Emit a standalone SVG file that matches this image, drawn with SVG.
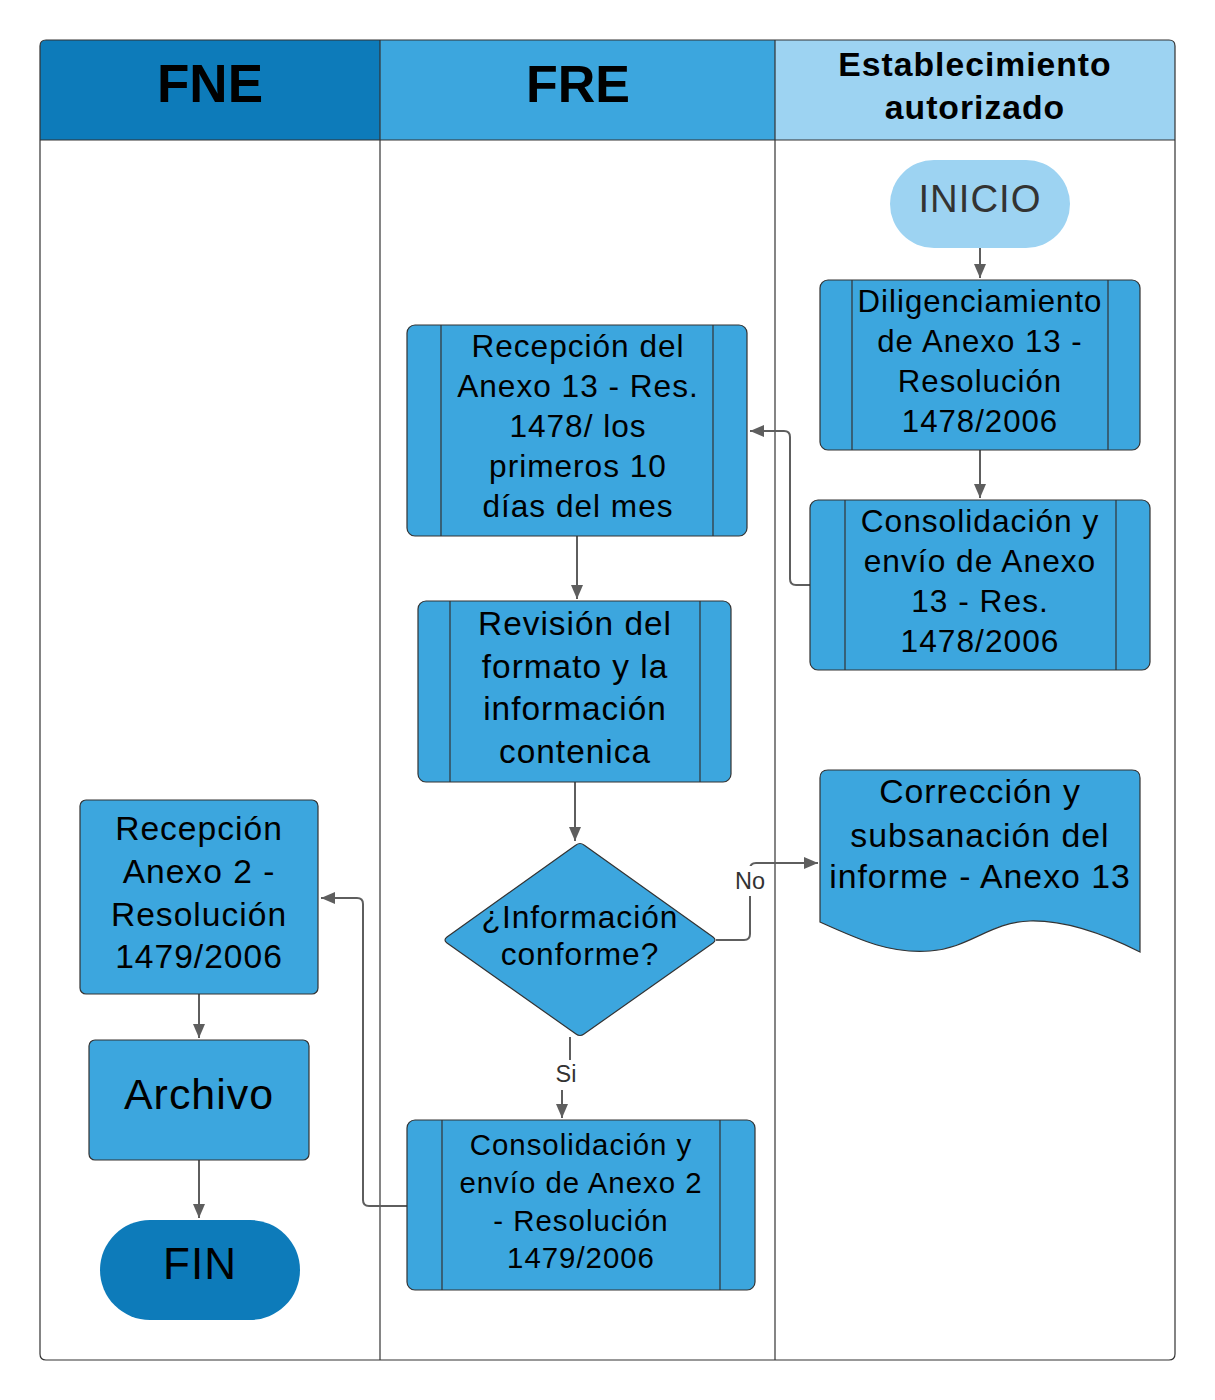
<svg xmlns="http://www.w3.org/2000/svg" width="1215" height="1400" viewBox="0 0 1215 1400">
<style>
.t{font-family:"Liberation Sans",Arial,sans-serif;fill:#000;text-anchor:middle;letter-spacing:1px}
.h{font-weight:bold}
.box{fill:#3ca6de;stroke:#333;stroke-width:1.2}
.inner{stroke:#333;stroke-width:1.2;fill:none}
.lane{fill:none;stroke:#333;stroke-width:1.2}
.c{fill:none;stroke:#5e5e5e;stroke-width:2}
.lbl{font-family:"Liberation Sans",Arial,sans-serif;fill:#333;text-anchor:middle;font-size:23.5px}
</style>
<defs>
<marker id="a" markerUnits="userSpaceOnUse" markerWidth="16" markerHeight="12" refX="14" refY="6" orient="auto" viewBox="0 0 16 12">
<path d="M0,0 L14,6 L0,12 z" fill="#5e5e5e"/>
</marker>
</defs>
<rect width="1215" height="1400" fill="#fff"/>
<g id="pool">
<path d="M46,40 H380 V140 H40 V46 Q40,40 46,40 z" fill="#0d7bba"/>
<rect x="380" y="40" width="395" height="100" fill="#3ca6de"/>
<path d="M775,40 H1169 Q1175,40 1175,46 V140 H775 z" fill="#9dd3f2"/>
<path class="lane" d="M46,40 H1169 Q1175,40 1175,46 V1354 Q1175,1360 1169,1360 H46 Q40,1360 40,1354 V46 Q40,40 46,40 z"/>
<line class="lane" x1="40" y1="140" x2="1175" y2="140"/>
<line class="lane" x1="380" y1="40" x2="380" y2="1360"/>
<line class="lane" x1="775" y1="40" x2="775" y2="1360"/>
<text class="t h" x="210" y="102" font-size="53" style="letter-spacing:0">FNE</text>
<text class="t h" x="578" y="102" font-size="52" style="letter-spacing:0">FRE</text>
<text class="t h" x="975" y="76" font-size="33.7">Establecimiento</text>
<text class="t h" x="975" y="119" font-size="33.7">autorizado</text>
</g>
<g id="connectors">
<path class="c" d="M980,248 V278" marker-end="url(#a)"/>
<path class="c" d="M980,450 V498" marker-end="url(#a)"/>
<path class="c" d="M810,585 H796 Q790,585 790,579 V437 Q790,431 784,431 H750" marker-end="url(#a)"/>
<path class="c" d="M577,536 V599" marker-end="url(#a)"/>
<path class="c" d="M575,782 V841" marker-end="url(#a)"/>
<path class="c" d="M716,940 H744 Q750,940 750,934 V869 Q750,863 756,863 H818" marker-end="url(#a)"/>
<path class="c" d="M570,1037 V1062 L562,1090 V1118" marker-end="url(#a)"/>
<path class="c" d="M407,1206 H369 Q363,1206 363,1200 V904 Q363,898 357,898 H321" marker-end="url(#a)"/>
<path class="c" d="M199,994 V1038" marker-end="url(#a)"/>
<path class="c" d="M199,1160 V1218" marker-end="url(#a)"/>
<rect x="733" y="866" width="34" height="30" fill="#fff"/>
<text class="lbl" x="750" y="889">No</text>
<rect x="552" y="1060" width="28" height="30" fill="#fff"/>
<text class="lbl" x="566" y="1082">Si</text>
</g>
<g id="inicio">
<rect x="890" y="160" width="180" height="88" rx="44" fill="#9dd3f2"/>
<text class="t" x="980" y="212" font-size="38.3" style="fill:#333">INICIO</text>
</g>
<g id="diligenciamiento">
<rect class="box" x="820" y="280" width="320" height="170" rx="8"/>
<line class="inner" x1="852" y1="280" x2="852" y2="450"/>
<line class="inner" x1="1108" y1="280" x2="1108" y2="450"/>
<text class="t" font-size="31.2"><tspan x="980" y="312">Diligenciamiento</tspan><tspan x="980" y="352">de Anexo 13 -</tspan><tspan x="980" y="392">Resolución</tspan><tspan x="980" y="432">1478/2006</tspan></text>
</g>
<g id="consolidacion13">
<rect class="box" x="810" y="500" width="340" height="170" rx="8"/>
<line class="inner" x1="845" y1="500" x2="845" y2="670"/>
<line class="inner" x1="1116" y1="500" x2="1116" y2="670"/>
<text class="t" font-size="31.7"><tspan x="980" y="532">Consolidación y</tspan><tspan x="980" y="572">envío de Anexo</tspan><tspan x="980" y="612">13 - Res.</tspan><tspan x="980" y="652">1478/2006</tspan></text>
</g>
<g id="recepcion13">
<rect class="box" x="407" y="325" width="340" height="211" rx="8"/>
<line class="inner" x1="441" y1="325" x2="441" y2="536"/>
<line class="inner" x1="713" y1="325" x2="713" y2="536"/>
<text class="t" font-size="31.6"><tspan x="578" y="357">Recepción del</tspan><tspan x="578" y="397">Anexo 13 - Res.</tspan><tspan x="578" y="437">1478/ los</tspan><tspan x="578" y="477">primeros 10</tspan><tspan x="578" y="517">días del mes</tspan></text>
</g>
<g id="revision">
<rect class="box" x="418" y="601" width="313" height="181" rx="8"/>
<line class="inner" x1="450" y1="601" x2="450" y2="782"/>
<line class="inner" x1="700" y1="601" x2="700" y2="782"/>
<text class="t" font-size="33.4"><tspan x="575" y="635">Revisión del</tspan><tspan x="575" y="678">formato y la</tspan><tspan x="575" y="720">información</tspan><tspan x="575" y="763">contenica</tspan></text>
</g>
<g id="decision">
<path class="box" d="M576,845 Q580,842 584,845 L713,937 Q717,940 713,943 L584,1034 Q580,1037 576,1034 L447,943 Q443,940 447,937 z"/>
<text class="t" font-size="31.7"><tspan x="580" y="928">¿Información</tspan><tspan x="580" y="965">conforme?</tspan></text>
</g>
<g id="correccion">
<path class="box" d="M820,922 V778 Q820,770 828,770 H1132 Q1140,770 1140,778 V952 C1110,937 1070,920 1030,921 C990,922 970,948 930,951 C890,954 860,940 820,922 z"/>
<text class="t" font-size="33.8"><tspan x="980" y="803">Corrección y</tspan><tspan x="980" y="847">subsanación del</tspan><tspan x="980" y="888">informe - Anexo 13</tspan></text>
</g>
<g id="consolidacion2">
<rect class="box" x="407" y="1120" width="348" height="170" rx="8"/>
<line class="inner" x1="442" y1="1120" x2="442" y2="1290"/>
<line class="inner" x1="720" y1="1120" x2="720" y2="1290"/>
<text class="t" font-size="29.4"><tspan x="581" y="1155">Consolidación y</tspan><tspan x="581" y="1193">envío de Anexo 2</tspan><tspan x="581" y="1231">- Resolución</tspan><tspan x="581" y="1268">1479/2006</tspan></text>
</g>
<g id="recepcion2">
<rect class="box" x="80" y="800" width="238" height="194" rx="6"/>
<text class="t" font-size="33.6"><tspan x="199" y="840">Recepción</tspan><tspan x="199" y="883">Anexo 2 -</tspan><tspan x="199" y="926">Resolución</tspan><tspan x="199" y="968">1479/2006</tspan></text>
</g>
<g id="archivo">
<rect class="box" x="89" y="1040" width="220" height="120" rx="6"/>
<text class="t" x="199" y="1109" font-size="42.9">Archivo</text>
</g>
<g id="fin">
<rect x="100" y="1220" width="200" height="100" rx="50" fill="#0d7bba"/>
<text class="t" x="200" y="1279" font-size="44">FIN</text>
</g>
</svg>
